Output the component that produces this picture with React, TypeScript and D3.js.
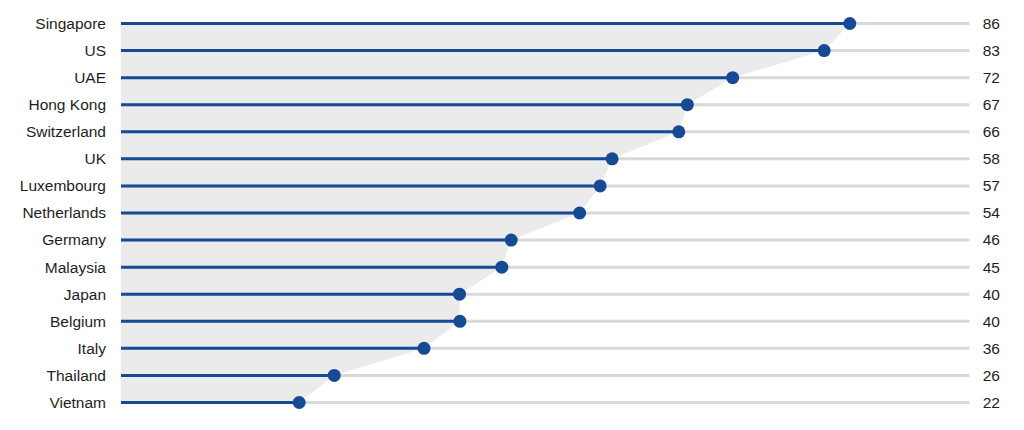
import React from 'react';
import * as d3 from 'd3';

const countries = [
  'Singapore', 'US', 'UAE', 'Hong Kong', 'Switzerland', 'UK', 'Luxembourg',
  'Netherlands', 'Germany', 'Malaysia', 'Japan', 'Belgium', 'Italy', 'Thailand', 'Vietnam',
];
// underlying scores (labels show rounded values)
const scores = [86.0, 83.0, 72.3, 67.0, 66.0, 58.2, 56.8, 54.4, 46.4, 45.3, 40.35, 40.4, 36.2, 25.7, 21.6];

const W = 1024;
const H = 430;
const stemStart = 121;

const App: React.FC = () => {
  const x = d3.scaleLinear().domain([0, 100]).range([114.5, 969.5]);
  const y = d3.scalePoint<string>().domain(countries).range([23.5, 402.5]);

  const pts: [number, number][] = countries.map((c, i) => [x(scores[i]), y(c)!]);
  const area: [number, number][] = [
    [stemStart, y(countries[0])!],
    ...pts,
    [stemStart, y(countries[countries.length - 1])!],
  ];
  const areaPath = d3.line<[number, number]>()(area) + 'Z';

  const blue = '#164a94';

  return (
    <svg width={W} height={H} style={{ position: 'absolute', left: 0, top: 0 }}
      fontFamily="'Liberation Sans', Arial, sans-serif" fontSize={15.5}>
      <rect width={W} height={H} fill="#fff" />
      <path d={areaPath} fill="#ebebeb" />
      {countries.map((c, i) => (
        <g key={c}>
          <line x1={stemStart} x2={x(100)} y1={y(c)} y2={y(c)} stroke="#d9d9d9" strokeWidth={3} />
          <line x1={stemStart} x2={x(scores[i])} y1={y(c)} y2={y(c)} stroke={blue} strokeWidth={3} />
          <circle cx={x(scores[i])} cy={y(c)} r={6.5} fill={blue} />
          <text x={106} y={y(c)} dy="0.35em" textAnchor="end" fill="#1e1e1e">{c}</text>
          <text x={1000} y={y(c)} dy="0.35em" textAnchor="end" fill="#1e1e1e">{Math.round(scores[i])}</text>
        </g>
      ))}
    </svg>
  );
};

export default App;
